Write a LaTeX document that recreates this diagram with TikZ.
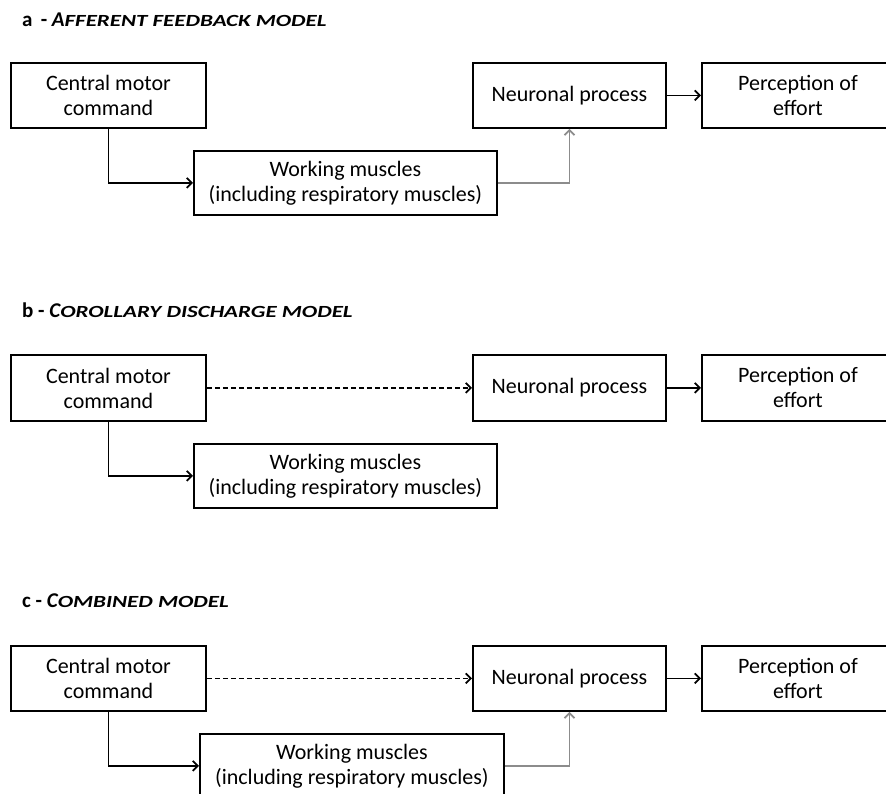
\documentclass[tikz,border=0pt]{standalone}
\usepackage{fontspec}
\setmainfont{Carlito}
\usetikzlibrary{arrows.meta}

\newcommand{\smallcap}[1]{\scalebox{1.35}[1]{\fontsize{17}{20}\selectfont #1}}

\tikzset{
  box/.style={draw, line width=1.9pt, inner sep=0pt, align=center, anchor=north west,
    font=\fontsize{22}{25}\selectfont},
  link/.style={line width=1.8pt, -{Straight Barb[length=5pt,width=10pt]}},
  feedback/.style={link, draw=black!45},
  title/.style={anchor=base west, inner sep=0pt, font=\fontsize{21}{24}\selectfont\bfseries}
}

\begin{document}
\begin{tikzpicture}[x=1pt,y=-1pt]
\useasboundingbox (0,0) rectangle (886,794);

% a - afferent feedback
\node[title] (titleA) at (22,27) {a \,- \textit{A\smallcap{FFERENT FEEDBACK MODEL}}};
\node[box, minimum width=195pt, minimum height=65pt] (cmcA) at (10,62) {Central motor\\command};
\node[box, minimum width=303pt, minimum height=64pt] (wmA) at (193,150) {Working muscles\\(including respiratory muscles)};
\node[box, minimum width=193pt, minimum height=65pt] (npA) at (472,62) {Neuronal process};
\node[box, minimum width=192pt, minimum height=65pt] (peA) at (701,62) {Perception of\\effort};
\draw[link] (cmcA.south) |- (wmA.west);
\draw[feedback] (wmA.east) -| (npA.south);
\draw[link] (npA) -- (peA);

% b - corollary discharge
\node[title] (titleB) at (22,317) {b - \textit{C\smallcap{OROLLARY DISCHARGE MODEL}}};
\node[box, minimum width=195pt, minimum height=66pt] (cmcB) at (10,354) {Central motor\\command};
\node[box, minimum width=303pt, minimum height=64pt] (wmB) at (193,443) {Working muscles\\(including respiratory muscles)};
\node[box, minimum width=193pt, minimum height=66pt] (npB) at (472,354) {Neuronal process};
\node[box, minimum width=192pt, minimum height=66pt] (peB) at (701,354) {Perception of\\effort};
\draw[link] (cmcB.south) |- (wmB.west);
\draw[link, dash pattern=on 5pt off 3pt] (cmcB) -- (npB);
\draw[link] (npB) -- (peB);

% c - combined
\node[title] (titleC) at (22,607) {c - \textit{C\smallcap{OMBINED MODEL}}};
\node[box, minimum width=195pt, minimum height=65pt] (cmcC) at (10,645) {Central motor\\command};
\node[box, minimum width=304pt, minimum height=64pt] (wmC) at (199,733) {Working muscles\\(including respiratory muscles)};
\node[box, minimum width=193pt, minimum height=65pt] (npC) at (472,645) {Neuronal process};
\node[box, minimum width=192pt, minimum height=65pt] (peC) at (701,645) {Perception of\\effort};
\draw[link] (cmcC.south) |- (wmC.west);
\draw[link, dash pattern=on 5pt off 3pt] (cmcC) -- (npC);
\draw[feedback] (wmC.east) -| (npC.south);
\draw[link] (npC) -- (peC);
\end{tikzpicture}
\end{document}
